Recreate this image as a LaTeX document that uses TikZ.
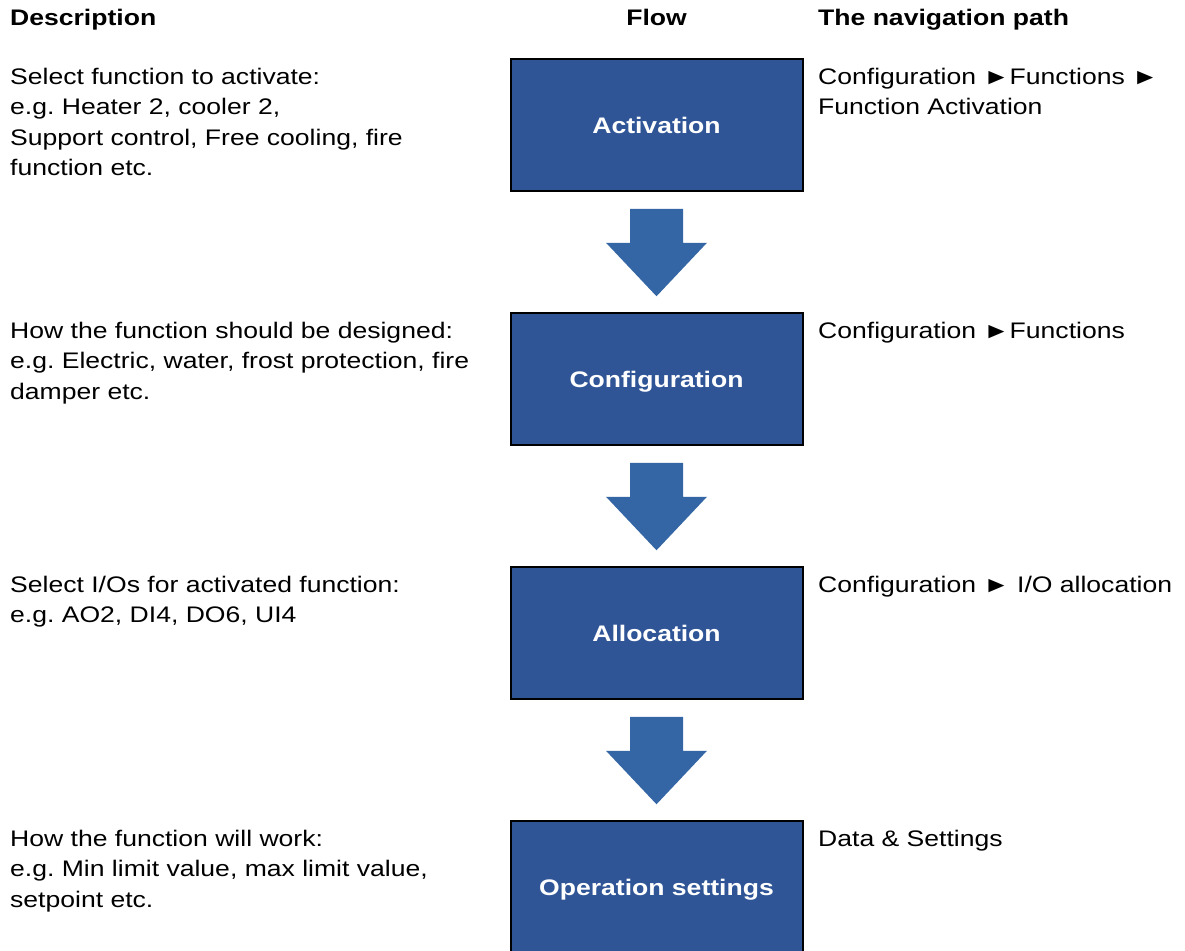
\documentclass[tikz,border=0pt]{standalone}
\usepackage{fontspec}
\setmainfont[FakeStretch=1.18]{Liberation Sans}
\frenchspacing
\usetikzlibrary{calc}
\definecolor{flowblue}{RGB}{47, 85, 151}
\definecolor{arrowblue}{RGB}{52, 101, 165}

\begin{document}
\begin{tikzpicture}[x=1pt, y=-1pt,
  every node/.style={font=\fontsize{22.5}{30.5}\selectfont, inner sep=0pt},
  head/.style={anchor=base, font=\fontsize{22.5}{30.5}\selectfont\bfseries},
  note/.style={anchor=base west, align=left},
  flowbox/.style={draw=black, line width=2pt, fill=flowblue, text=white,
                  minimum width=292pt, minimum height=131.5pt,
                  font=\fontsize{22.5}{30.5}\selectfont\bfseries,
                  text height=16pt, text depth=0pt},
]
\path[use as bounding box, fill=white] (0,0) rectangle (1185,950);

% Column heads
\node[head, anchor=base west] (hdesc) at (10,26) {Description};
\node[head] (hflow) at (656.5,26) {Flow};
\node[head, anchor=base west] (hpath) at (818,26) {The navigation path};

% Flow boxes
\node[flowbox] (act) at (656.5,125) {Activation};
\node[flowbox] (conf) at (656.5,379) {Configuration};
\node[flowbox] (alloc) at (656.5,633) {Allocation};
\node[flowbox] (oper) at (656.5,887) {Operation settings};

% Block arrows between the boxes
\foreach \a/\b in {act/conf, conf/alloc, alloc/oper} {
  \fill[arrowblue] ($(\a.south)+(-26.5,17)$) -- ($(\a.south)+(26.5,17)$)
    -- ($(\a.south)+(26.5,51)$) -- ($(\a.south)+(50.5,51)$)
    -- ($(\b.north)+(0,-16)$)
    -- ($(\a.south)+(-50.5,51)$) -- ($(\a.south)+(-26.5,51)$) -- cycle;
}

% Description column (base = baseline of the last line)
\node[note] (dact) at (10,175.5)
{Select function to activate:\\e.g. Heater 2, cooler 2,\\Support control, Free cooling, fire\\function etc.};
\node[note] (dconf) at (10,399)
{How the function should be designed:\\e.g. Electric, water, frost protection, fire\\damper etc.};
\node[note] (dalloc) at (10,622.5)
{Select I/Os for activated function:\\e.g. AO2, DI4, DO6, UI4};
\node[note] (doper) at (10,907)
{How the function will work:\\e.g. Min limit value, max limit value,\\setpoint etc.};

% Navigation path column
\node[note] (pact) at (818,114.5) {Configuration ►Functions ►\\Function Activation};
\node[note] (pconf) at (818,338) {Configuration ►Functions};
\node[note] (palloc) at (818,592) {Configuration ► I/O allocation};
\node[note] (poper) at (818,846) {Data \& Settings};
\end{tikzpicture}
\end{document}
